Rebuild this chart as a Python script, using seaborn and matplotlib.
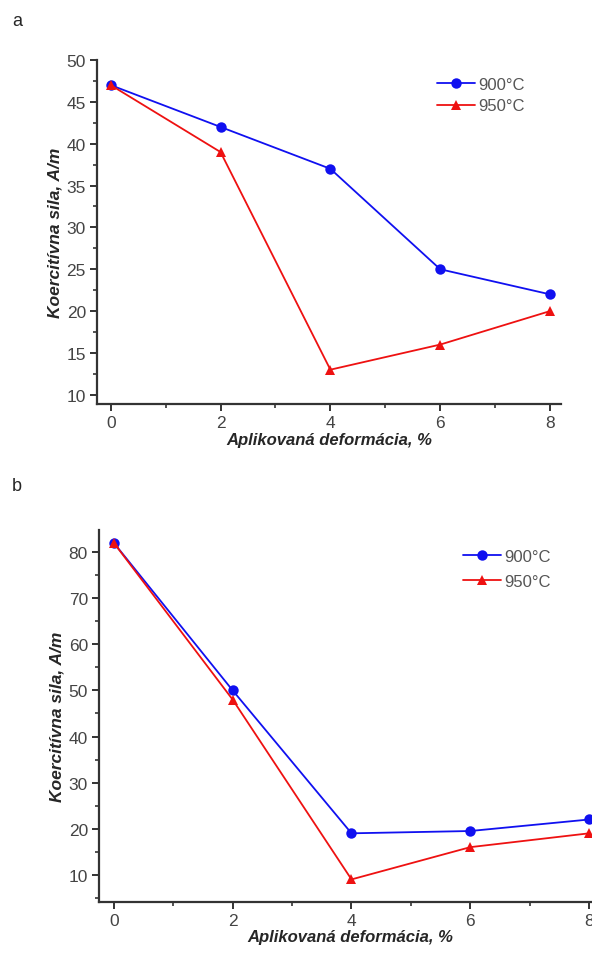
import matplotlib
matplotlib.use("Agg")
import matplotlib.pyplot as plt
from matplotlib.ticker import MultipleLocator
from matplotlib.lines import Line2D
import pandas as pd
import seaborn as sns

# Applied strain, %
strain = [0, 2, 4, 6, 8]

# Panel a: coercive force, A/m
a_900 = [47, 42, 37, 25, 22]
a_950 = [47, 39, 13, 16, 20]

# Panel b: coercive force, A/m
b_900 = [82, 50, 19, 19.5, 22]
b_950 = [82, 48, 9, 16, 19]

series_names = ["900°C", "950°C"]
colors = {"900": "#1010f0", "950": "#ee1111"}
markers = {"900": "o", "950": "^"}

sns.set_theme(style="ticks")
plt.rcParams["font.family"] = ["Liberation Sans", "DejaVu Sans"]

W, H = 592, 954
fig = plt.figure(figsize=(W / 100, H / 100), dpi=100)


def frame(key, values):
    return pd.DataFrame({"strain": strain, "value": values, "series": key})


def make_axes(l, r, t, b):
    return fig.add_axes([l / W, 1 - b / H, (r - l) / W, (b - t) / H])


def draw_panel(ax, s900, s950, ylim, ymajor, yminor, leg_anchor, spacing):
    df = pd.concat([frame("900", s900), frame("950", s950)])
    sns.lineplot(data=df, x="strain", y="value", hue="series", style="series",
                 palette=colors, markers=markers, dashes=False, ax=ax,
                 markersize=7.5, linewidth=1.3, markeredgewidth=0, legend=False)
    ax.set_xlim(-0.25, 8.2)
    ax.set_ylim(*ylim)
    ax.xaxis.set_major_locator(MultipleLocator(2))
    ax.xaxis.set_minor_locator(MultipleLocator(1))
    ax.yaxis.set_major_locator(MultipleLocator(ymajor))
    ax.yaxis.set_minor_locator(MultipleLocator(yminor))
    for side in ("top", "right"):
        ax.spines[side].set_visible(False)
    for side in ("left", "bottom"):
        ax.spines[side].set_color("#333333")
        ax.spines[side].set_linewidth(1.6)
    ax.tick_params(which="major", direction="out", length=5, width=1.4,
                   colors="#333333", labelsize=12.5, labelcolor="#444444", pad=3)
    ax.tick_params(which="minor", direction="out", length=3, width=1.2,
                   colors="#333333")
    ax.set_xlabel("Aplikovaná deformácia, %", fontsize=12, fontweight="bold",
                  fontstyle="italic", labelpad=1)
    ax.set_ylabel("Koercitívna sila, A/m", fontsize=12.5, fontweight="bold",
                  fontstyle="italic", labelpad=3)
    handles = [
        Line2D([], [], color=colors["900"], marker="o", markersize=7.5,
               markeredgewidth=0, linewidth=1.3),
        Line2D([], [], color=colors["950"], marker="^", markersize=7.5,
               markeredgewidth=0, linewidth=1.3),
    ]
    ax.legend(handles, series_names, loc="upper left", bbox_to_anchor=leg_anchor,
              frameon=False, fontsize=12, handlelength=2.3, handletextpad=0.2,
              labelspacing=spacing, labelcolor="#555555")


ax_a = make_axes(97, 561, 61, 405)
draw_panel(ax_a, a_900, a_950, (8.9, 50), 5, 2.5, (0.70, 0.995), 0.4)

ax_b = make_axes(99, 601, 531, 903)
draw_panel(ax_b, b_900, b_950, (4.1, 84.8), 10, 5, (0.695, 0.99), 0.6)

fig.text(12 / W, 1 - 22 / H, "a", fontsize=13, va="center", ha="left")
fig.text(12 / W, 1 - 487 / H, "b", fontsize=13, va="center", ha="left")

fig.savefig("out.png", dpi=100)
